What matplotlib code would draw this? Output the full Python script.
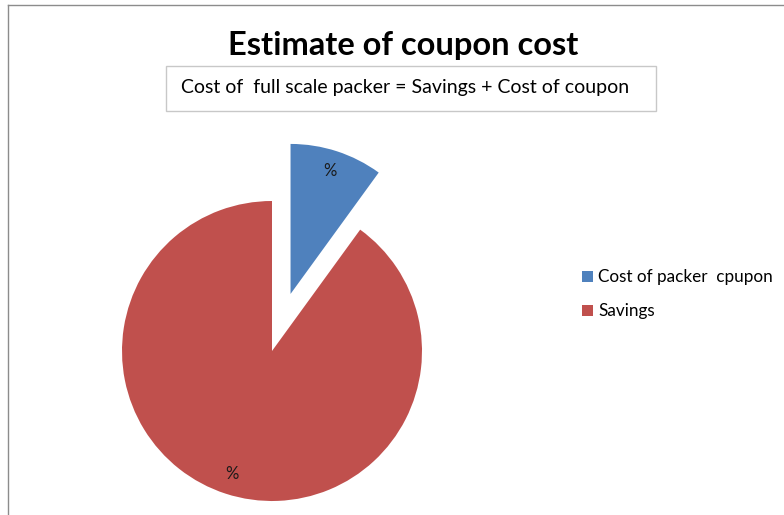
import matplotlib.pyplot as plt
from matplotlib.patches import Rectangle
from matplotlib.lines import Line2D

# --- Data ---
labels = ["Cost of packer  cpupon", "Savings"]
shares = [10, 90]
colors = ["#4F81BD", "#C0504D"]
explode = [0.4, 0]

plt.rcParams['font.family'] = ['Lato', 'DejaVu Sans']

fig = plt.figure(figsize=(7.84, 5.15), dpi=100)
W, H = 784, 515

# pie axes spans the whole figure, 150 px per unit radius
ax = fig.add_axes([0, 0, 1, 1])
cx, cy, r = 272, 351, 150
wedges, texts, autotexts = ax.pie(
    shares, colors=colors, explode=explode, startangle=90, counterclock=False,
    autopct=lambda p: "%", pctdistance=0.86,
    textprops=dict(fontsize=12, color="#1a1a1a"),
)
ax.set_xlim(-cx / r, (W - cx) / r)
ax.set_ylim((cy - H) / r, cy / r)
ax.set_aspect("equal")
ax.axis("off")

# chart area frame (left and top edges)
fig.add_artist(Line2D([8 / W, 8 / W], [0, 1 - 5 / H], color="#8c8c8c", lw=1))
fig.add_artist(Line2D([8 / W, 1], [1 - 5 / H, 1 - 5 / H], color="#8c8c8c", lw=1))

# title and formula box
fig.text(403 / W, 1 - 45 / H, "Estimate of coupon cost", ha="center", va="center",
         fontsize=23.5, fontweight="bold")
fig.add_artist(Rectangle((166 / W, 1 - 111 / H), 490 / W, 45 / H, transform=fig.transFigure,
                         facecolor="white", edgecolor="#c8c8c8", lw=1))
fig.text(181 / W, 1 - 88 / H, "Cost of  full scale packer = Savings + Cost of coupon",
         ha="left", va="center", fontsize=14)

leg = fig.legend(wedges, labels, loc="upper left", bbox_to_anchor=(567 / W, 1 - 254 / H),
                 frameon=False, fontsize=12.3, handlelength=0.62, handleheight=0.62,
                 handletextpad=0.3, labelspacing=1.05)

fig.savefig("out.png", dpi=100)
